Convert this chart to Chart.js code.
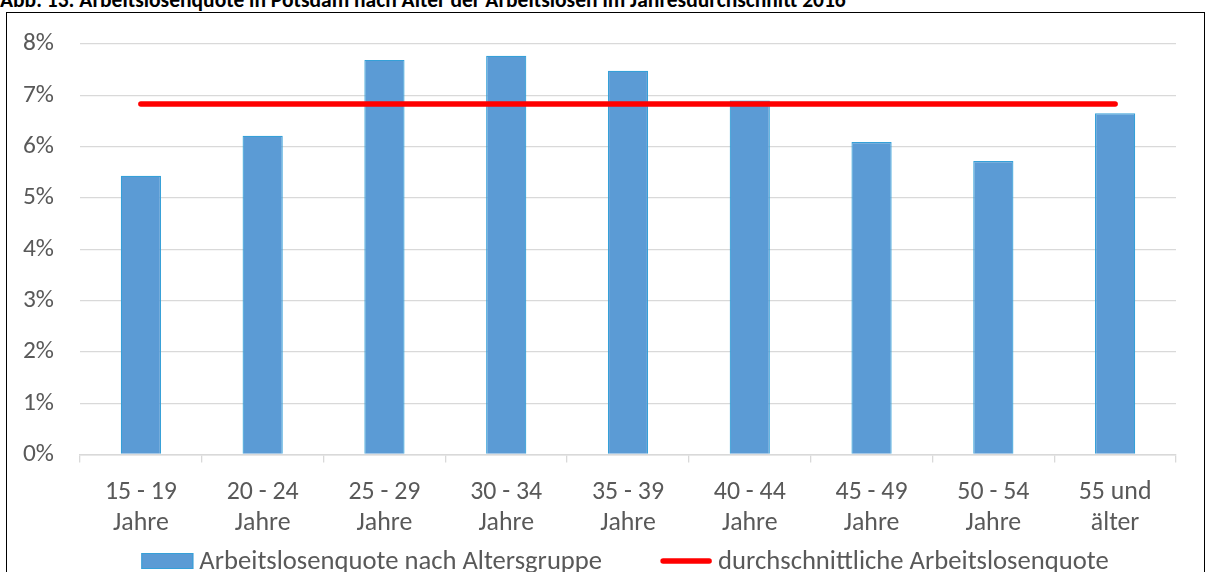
<!DOCTYPE html>
<html lang="de">
<head>
<meta charset="utf-8">
<title>Arbeitslosenquote in Potsdam nach Alter 2016</title>
<script src="https://cdn.jsdelivr.net/npm/chart.js@4.4.1/dist/chart.umd.min.js"></script>
<style>
  html, body { margin: 0; padding: 0; background: #fff; overflow: hidden; }
  #wrap { position: relative; width: 1206px; height: 572px; overflow: hidden; }
  #frame {
    position: absolute; left: 6px; top: 12px; width: 1199px; height: 620px;
    border: 1.6px solid #000; box-sizing: border-box;
  }
  #title {
    position: absolute; left: 0; white-space: nowrap; font-weight: bold;
    color: #000; line-height: 1;
  }
  #chart { position: absolute; left: 0; top: 0; }
</style>
</head>
<body>
<div id="wrap">
  <div id="frame"></div>
  <div id="title">Abb. 13: Arbeitslosenquote in Potsdam nach Alter der Arbeitslosen im Jahresdurchschnitt 2016</div>
  <canvas id="chart" width="1206" height="572"></canvas>
</div>
<script>
// Altersgruppen (zweizeilige Achsenbeschriftung)
const ageGroups = [
  ["15 - 19", "Jahre"],
  ["20 - 24", "Jahre"],
  ["25 - 29", "Jahre"],
  ["30 - 34", "Jahre"],
  ["35 - 39", "Jahre"],
  ["40 - 44", "Jahre"],
  ["45 - 49", "Jahre"],
  ["50 - 54", "Jahre"],
  ["55 und", "älter"]
];

// Arbeitslosenquote je Altersgruppe in %
const quoteByAge = [5.43, 6.21, 7.69, 7.77, 7.48, 6.90, 6.09, 5.72, 6.65];

// durchschnittliche Arbeitslosenquote in %
const averageQuote = [6.83, 6.83, 6.83, 6.83, 6.83, 6.83, 6.83, 6.83, 6.83];

// Beschriftungen der y-Achse
const yTicks = [0, 1, 2, 3, 4, 5, 6, 7, 8];

const seriesLabels = ["Arbeitslosenquote nach Altersgruppe", "durchschnittliche Arbeitslosenquote"];

const FAMILY = "Carlito, Lato, 'Noto Sans', sans-serif";
const TEXT_COLOR = "#595959";
const GRID_COLOR = "#d9d9d9";

// font size that makes a string span the given width
function fitSize(text, weight, width) {
  const c = document.createElement("canvas").getContext("2d");
  c.font = weight + " 100px " + FAMILY;
  return 100 * width / c.measureText(text).width;
}

const tickSizeY = fitSize("8%", "normal", 31);
const tickSizeX = fitSize("15 - 19", "normal", 72);
const legendSize = fitSize(seriesLabels[0], "normal", 403);
const titleSize = fitSize(document.getElementById("title").textContent, "bold", 846);

const titleEl = document.getElementById("title");
titleEl.style.fontFamily = FAMILY;
titleEl.style.fontSize = titleSize + "px";
titleEl.style.top = (8.5 - 0.86 * titleSize) + "px";

const CHART_LEFT = 80, CHART_RIGHT = 1176, CHART_TOP = 44, CHART_BOTTOM = 454.5;
const LEGEND_SPACE = 40;

// legend drawn below the axis: filled box for bars, thick line for the average
const bottomLegend = {
  id: "bottomLegend",
  afterDraw(chart) {
    const ctx = chart.ctx;
    const sets = chart.data.datasets;
    const symW = 52, textGap = 6, itemGap = 58;
    ctx.save();
    ctx.font = legendSize + "px " + FAMILY;
    const widths = sets.map(d => ctx.measureText(d.label).width);
    const total = widths.reduce((s, w) => s + symW + textGap + w, 0) + itemGap * (sets.length - 1);
    let x = (chart.chartArea.left + chart.chartArea.right) / 2 - total / 2 - 3;
    const cy = chart.height - 11;
    const baseline = chart.height - 3.5;
    sets.forEach((d, i) => {
      if (d.type === "line") {
        ctx.strokeStyle = d.borderColor;
        ctx.lineWidth = d.borderWidth;
        ctx.lineCap = "round";
        ctx.beginPath();
        ctx.moveTo(x + 3, cy);
        ctx.lineTo(x + symW - 3, cy);
        ctx.stroke();
      } else {
        ctx.fillStyle = d.backgroundColor;
        ctx.fillRect(x, cy - 8, symW, 16);
        ctx.strokeStyle = d.borderColor;
        ctx.lineWidth = 1;
        ctx.strokeRect(x + 0.5, cy - 7.5, symW - 1, 15);
      }
      ctx.fillStyle = TEXT_COLOR;
      ctx.textBaseline = "alphabetic";
      ctx.textAlign = "left";
      ctx.fillText(d.label, x + symW + textGap, baseline);
      x += symW + textGap + widths[i] + itemGap;
    });
    ctx.restore();
  }
};

new Chart(document.getElementById("chart"), {
  data: {
    labels: ageGroups,
    datasets: [
      {
        type: "bar",
        label: seriesLabels[0],
        data: quoteByAge,
        backgroundColor: "#5b9bd5",
        borderColor: "#35a0d8",
        borderWidth: 1.2,
        barPercentage: 0.33,
        categoryPercentage: 1,
        order: 2
      },
      {
        type: "line",
        label: seriesLabels[1],
        data: averageQuote,
        borderColor: "#ff0000",
        backgroundColor: "#ff0000",
        borderWidth: 5.5,
        borderCapStyle: "round",
        pointRadius: 0,
        pointHoverRadius: 0,
        tension: 0,
        order: 1
      }
    ]
  },
  options: {
    responsive: false,
    devicePixelRatio: 1,
    animation: false,
    layout: {
      padding: { left: 0, right: 1206 - CHART_RIGHT, top: CHART_TOP, bottom: LEGEND_SPACE }
    },
    plugins: {
      legend: { display: false },
      tooltip: { enabled: false },
      title: { display: false }
    },
    scales: {
      x: {
        offset: true,
        grid: {
          offset: true,
          drawOnChartArea: false,
          drawTicks: true,
          tickLength: 8,
          color: GRID_COLOR,
          lineWidth: 1.3
        },
        border: { display: true, color: GRID_COLOR, width: 1.5 },
        ticks: {
          color: TEXT_COLOR,
          font: { family: FAMILY, size: tickSizeX, lineHeight: 31.5 / tickSizeX },
          padding: 14,
          maxRotation: 0,
          autoSkip: false
        },
        afterFit(scale) { scale.height = 572 - LEGEND_SPACE - CHART_BOTTOM; }
      },
      y: {
        min: 0,
        max: 8,
        afterBuildTicks(scale) { scale.ticks = yTicks.map(v => ({ value: v })); },
        grid: { color: GRID_COLOR, lineWidth: 1.3, drawTicks: false },
        border: { display: false },
        ticks: {
          color: TEXT_COLOR,
          font: { family: FAMILY, size: tickSizeY },
          padding: 26,
          callback: v => v + "%"
        },
        afterFit(scale) { scale.width = CHART_LEFT; }
      }
    }
  },
  plugins: [bottomLegend]
});
</script>
</body>
</html>
